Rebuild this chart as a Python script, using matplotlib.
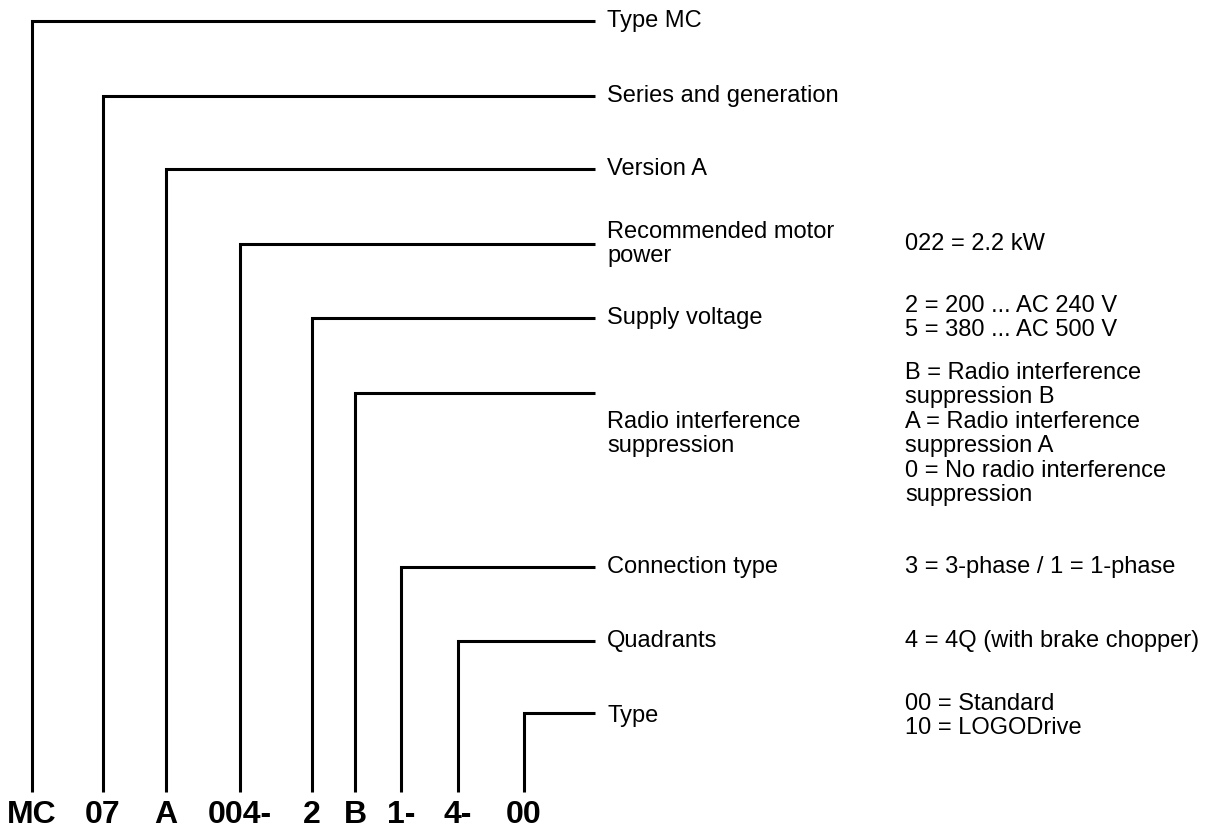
import matplotlib
matplotlib.use("Agg")
import matplotlib.pyplot as plt

# --- Type code segments and their meaning ---
codes = ["MC", "07", "A", "004-", "2", "B", "1-", "4-", "00"]
labels = [
    "Type MC",
    "Series and generation",
    "Version A",
    "Recommended motor\npower",
    "Supply voltage",
    "Radio interference\nsuppression",
    "Connection type",
    "Quadrants",
    "Type",
]
options = [
    "",
    "",
    "",
    "022 = 2.2 kW",
    "2 = 200 ... AC 240 V\n5 = 380 ... AC 500 V",
    "B = Radio interference\nsuppression B\nA = Radio interference\nsuppression A\n"
    "0 = No radio interference\nsuppression",
    "3 = 3-phase / 1 = 1-phase",
    "4 = 4Q (with brake chopper)",
    "00 = Standard\n10 = LOGODrive",
]

# --- Layout (pixel coordinates, y from top) ---
drop_x = [32, 103, 166, 240, 312, 355, 401, 458, 524]
branch_y = [21, 96, 169, 244, 318, 393, 567, 641, 713]
text_y = [21, 96, 169, 244, 318, 434, 567, 641, 716]
line_end = 595
line_bottom = 792
label_x = 607
option_x = 905
code_bottom = 830

W, H = 1206, 831
plt.rcParams["font.family"] = ["Liberation Sans", "DejaVu Sans"]

fig = plt.figure(figsize=(W / 100, H / 100), dpi=100)
ax = fig.add_axes([0, 0, 1, 1])
ax.set_xlim(0, W)
ax.set_ylim(H, 0)
ax.axis("off")

for i in range(len(codes)):
    x, y = drop_x[i], branch_y[i]
    ax.plot([x, x, line_end], [line_bottom, y, y], color="black", lw=2.2,
            solid_joinstyle="miter", solid_capstyle="butt")
    ax.text(label_x, text_y[i], labels[i], fontsize=17, va="center", ha="left",
            linespacing=1.15)
    if options[i]:
        ax.text(option_x, text_y[i], options[i], fontsize=17, va="center", ha="left",
                linespacing=1.15)
    ax.text(x, code_bottom, codes[i], fontsize=23, fontweight="bold",
            ha="center", va="bottom")

fig.savefig("out.png", dpi=100)
